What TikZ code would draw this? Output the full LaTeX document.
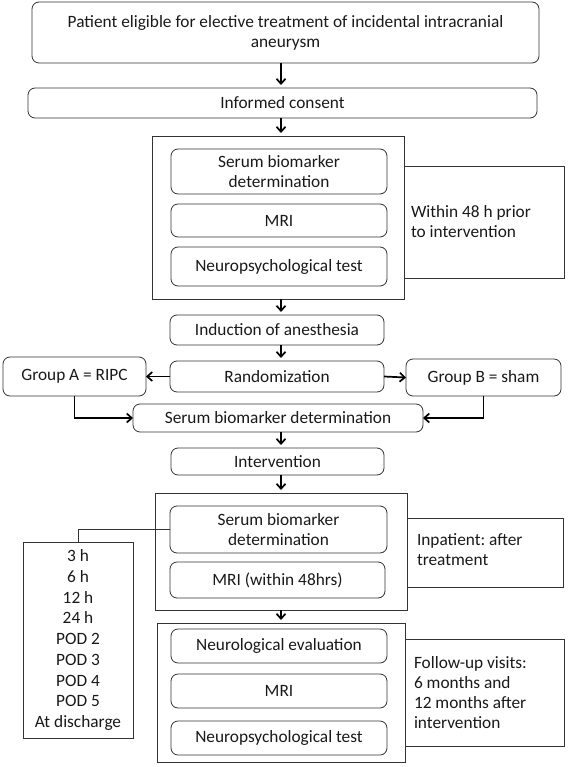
\documentclass[tikz,border=0pt]{standalone}
\usepackage{fontspec}
\setmainfont{Carlito}
\usetikzlibrary{arrows.meta}
\frenchspacing
\begin{document}
\begin{tikzpicture}[x=1pt,y=-1pt,
  every node/.style={inner sep=0pt,outer sep=0pt,font=\fontsize{17.3}{20}\selectfont,text=black!90},
  rbox/.style={draw=black!80,line width=0.8pt,rounded corners=7pt,align=center},
  sbox/.style={draw=black!80,line width=0.8pt},
  sidetext/.style={anchor=west,align=left},
  arr/.style={draw=black,line width=1.7pt,-{Straight Barb[length=5pt,width=9pt]}},
  vlink/.style={arr,shorten >=3pt},
  thin/.style={draw=black!80,line width=0.8pt}
]
\useasboundingbox (0,0) rectangle (567,767);
\coordinate (ax) at (281,0);
% top
\node[rbox,minimum width=507pt,minimum height=61pt] (top) at (285.5,32.5)
  {Patient eligible for elective treatment of incidental intracranial\\aneurysm};
\node[rbox,minimum width=509pt,minimum height=30pt] (consent) at (282.5,103) {Informed consent};
% block 1
\node[sbox,minimum width=252pt,minimum height=163pt] (box1) at (278,217.5) {};
\node[rbox,minimum width=216pt,minimum height=45pt] (s1) at (279,171.5) {Serum biomarker\\determination};
\node[rbox,minimum width=216pt,minimum height=33pt] (m1) at (279,220.5) {MRI};
\node[rbox,minimum width=216pt,minimum height=39pt] (n1) at (279,266.5) {Neuropsychological test};
\node[sbox,minimum width=160pt,minimum height=112pt] (side1) at (484,222) {};
\node[sidetext] (side1t) at (411,222) {Within 48 h prior\\to intervention};
% middle
\node[rbox,minimum width=214pt,minimum height=30pt] (ind) at (277,330) {Induction of anesthesia};
\node[rbox,minimum width=214pt,minimum height=31pt] (rand) at (277,376.5) {Randomization};
\node[rbox,minimum width=143pt,minimum height=39pt] (gA) at (74.5,376.5) {Group A = RIPC};
\node[rbox,minimum width=155pt,minimum height=37pt] (gB) at (483.5,377.5) {Group B = sham};
\node[rbox,minimum width=290pt,minimum height=28pt] (smid) at (278,418) {Serum biomarker determination};
\node[rbox,minimum width=213pt,minimum height=27pt] (interv) at (277.5,461.5) {Intervention};
% block 2
\node[sbox,minimum width=252pt,minimum height=117pt] (box2) at (281,551.5) {};
\node[rbox,minimum width=217pt,minimum height=47pt] (s2) at (278.5,529.5) {Serum biomarker\\determination};
\node[rbox,minimum width=215pt,minimum height=36pt] (m2) at (277.5,580) {MRI (within 48hrs)};
\node[sbox,minimum width=156pt,minimum height=69pt] (side2) at (485,552.5) {};
\node[sidetext] (side2t) at (417,549.5) {Inpatient: after\\treatment};
% times
\node[sbox,minimum width=110pt,minimum height=196pt,align=center,
  font=\fontsize{17.3}{20.75}\selectfont] (times) at (78,640)
  {3 h\\6 h\\12 h\\24 h\\POD 2\\POD 3\\POD 4\\POD 5\\At discharge};
% block 3
\node[sbox,minimum width=248pt,minimum height=139pt] (box3) at (281,692.5) {};
\node[rbox,minimum width=216pt,minimum height=34pt] (ne) at (279,646) {Neurological evaluation};
\node[rbox,minimum width=216pt,minimum height=34pt] (m3) at (279,691) {MRI};
\node[rbox,minimum width=216pt,minimum height=34pt] (n3) at (279,738) {Neuropsychological test};
\node[sbox,minimum width=159pt,minimum height=107pt] (side3) at (484.5,692.5) {};
\node[sidetext] (side3t) at (414,693) {Follow-up visits:\\6 months and\\12 months after\\intervention};
% arrows
\draw[vlink] (top.south -| ax) -- (consent.north -| ax);
\draw[vlink] (consent.south -| ax) -- (box1.north -| ax);
\draw[vlink] (box1.south -| ax) -- (ind.north -| ax);
\draw[vlink] (ind.south -| ax) -- (rand.north -| ax);
\draw[arr] (rand.west) -- (gA.east);
\draw[arr] (rand.east) -- (gB.west);
\draw[arr] (gA.south) |- (smid.west);
\draw[arr] (gB.south) |- (smid.east);
\draw[vlink] (smid.south -| ax) -- (interv.north -| ax);
\draw[vlink] (interv.south -| ax) -- (box2.north -| ax);
\draw[vlink] (box2.south -| ax) -- (box3.north -| ax);
\draw[thin] (s2.west) -| (times.north);
\end{tikzpicture}
\end{document}
